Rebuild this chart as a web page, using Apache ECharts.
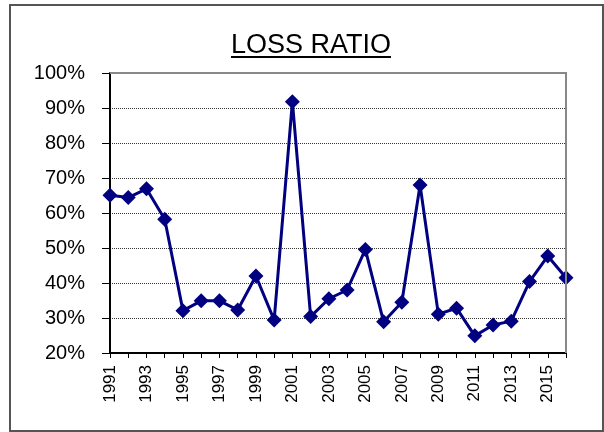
<!DOCTYPE html>
<html>
<head>
<meta charset="utf-8">
<script src="https://cdn.jsdelivr.net/npm/echarts@6/dist/echarts.min.js"></script>
<style>
  html, body { margin: 0; padding: 0; background: #fff; }
  #chart { width: 604px; height: 432px; }
</style>
</head>
<body>
<div id="chart"></div>
<script>
// 年份
const years = ['1991', '1992', '1993', '1994', '1995', '1996', '1997', '1998', '1999', '2000',
  '2001', '2002', '2003', '2004', '2005', '2006', '2007', '2008', '2009', '2010',
  '2011', '2012', '2013', '2014', '2015', '2016'];
// 赔付率 (%)
const lossRatio = [65.1, 64.4, 66.9, 58.2, 32.1, 34.9, 34.9, 32.3, 42.0, 29.4,
  91.8, 30.4, 35.5, 38.0, 49.6, 28.9, 34.5, 68.0, 31.1, 32.8,
  24.9, 28.0, 29.1, 40.4, 47.7, 41.5];

const font = '"Liberation Sans", Arial, sans-serif';

const chart = echarts.init(document.getElementById('chart'));
chart.setOption({
  animation: false,
  title: {
    text: 'LOSS RATIO',
    left: 226,
    top: 27,
    textStyle: { fontFamily: font, fontSize: 27, fontWeight: 'normal', color: '#000' }
  },
  grid: { left: 110, right: 38, top: 73, bottom: 79 },
  xAxis: {
    type: 'category',
    data: years,
    boundaryGap: false,
    axisLine: { lineStyle: { color: '#000', width: 2 } },
    axisTick: { show: true, interval: 0, length: 5, lineStyle: { color: '#000', width: 1 } },
    axisLabel: {
      interval: 1,
      rotate: 90,
      margin: 12,
      fontFamily: font,
      fontSize: 17,
      color: '#000'
    },
    splitLine: { show: false }
  },
  yAxis: {
    type: 'value',
    min: 20,
    max: 100,
    interval: 10,
    axisLine: { show: true, lineStyle: { color: '#000', width: 2 } },
    axisTick: { show: true, length: 8, lineStyle: { color: '#000', width: 1 } },
    axisLabel: {
      formatter: '{value}%',
      margin: 25,
      fontFamily: font,
      fontSize: 20,
      color: '#000'
    },
    splitLine: { show: true, lineStyle: { color: '#333', type: 'dotted', width: 1 } }
  },
  series: [{
    type: 'line',
    data: lossRatio,
    symbol: 'diamond',
    symbolSize: 15,
    showAllSymbol: true,
    lineStyle: { color: '#000080', width: 3 },
    itemStyle: { color: '#000080' }
  }],
  graphic: [
    // 外框
    { type: 'rect', shape: { x: 10, y: 5, width: 593, height: 426 }, style: { fill: null, stroke: '#555', lineWidth: 2 } },
    // 绘图区上边、右边
    { type: 'polyline', shape: { points: [[110, 73], [566, 73], [566, 353]] }, style: { stroke: '#888', lineWidth: 2, fill: null }, z: 10 },
    // 标题下划线
    { type: 'line', shape: { x1: 231, y1: 57, x2: 391, y2: 57 }, style: { stroke: '#000', lineWidth: 2 } }
  ]
});
</script>
</body>
</html>
